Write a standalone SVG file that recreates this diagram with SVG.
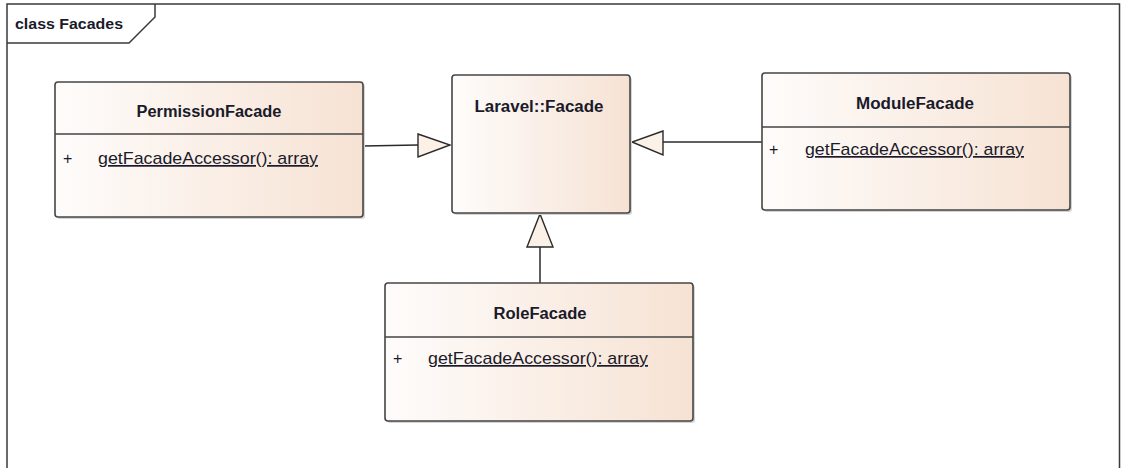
<svg xmlns="http://www.w3.org/2000/svg" width="1122" height="468" viewBox="0 0 1122 468">
<style>
.frame{fill:none;stroke:#3a3a3a;stroke-width:1.5}
.box{fill:url(#g);stroke:#454545;stroke-width:1.6}
.shadow{fill:#d4d4d4}
.div{stroke:#454545;stroke-width:1.4}
.title{font-family:"Liberation Sans",Arial,sans-serif;font-weight:bold;font-size:16px;fill:#1a1a2a;text-anchor:middle}
.attr{font-family:"Liberation Sans",Arial,sans-serif;font-size:17px;fill:#1a1a2a;text-decoration:underline}
.vis{font-family:"Liberation Sans",Arial,sans-serif;font-size:16px;fill:#1a1a2a}
.frm{font-family:"Liberation Sans",Arial,sans-serif;font-weight:bold;font-size:15px;fill:#1a1a2a}
.line{fill:none;stroke:#2a2a2a;stroke-width:1.5}
.head{fill:#fbf1e6;stroke:#2a2a2a;stroke-width:1.4}
</style>
<defs>
<linearGradient id="g" x1="0" y1="0" x2="1" y2="0">
<stop offset="0" stop-color="#fefcfb"/>
<stop offset="1" stop-color="#f6e2d3"/>
</linearGradient>
</defs>
<rect width="1122" height="468" fill="#ffffff"/>
<g id="frame">
<path class="frame" d="M7,470 V4 H1119.5 V470"/>
<path class="frame" d="M7,43 H129 L155,17 V4"/>
<text class="frm" x="15" y="29" textLength="108" lengthAdjust="spacingAndGlyphs">class Facades</text>
</g>
<g id="connectors">
<line class="line" x1="363" y1="146" x2="418" y2="145"/>
<polygon class="head" points="418,134 450,145 418,157"/>
<line class="line" x1="762" y1="142" x2="663" y2="142"/>
<polygon class="head" points="663,131 632,142 663,155"/>
<line class="line" x1="540" y1="283" x2="540" y2="247"/>
<polygon class="head" points="527,247 540,214 553,247"/>
</g>
<g id="PermissionFacade">
<rect class="shadow" x="57" y="84" width="308" height="135" rx="3"/>
<rect class="box" x="55" y="82" width="308" height="135" rx="3"/>
<line class="div" x1="55" y1="134" x2="363" y2="134"/>
<text class="title" x="209" y="117" textLength="145" lengthAdjust="spacingAndGlyphs">PermissionFacade</text>
<text class="vis" x="63" y="164">+</text>
<text class="attr" x="98" y="164" textLength="220" lengthAdjust="spacingAndGlyphs">getFacadeAccessor(): array</text>
</g>
<g id="LaravelFacade">
<rect class="shadow" x="454" y="77" width="178" height="138" rx="3"/>
<rect class="box" x="452" y="75" width="178" height="138" rx="3"/>
<text class="title" x="539" y="112" textLength="129" lengthAdjust="spacingAndGlyphs">Laravel::Facade</text>
</g>
<g id="ModuleFacade">
<rect class="shadow" x="764" y="75" width="308" height="137" rx="3"/>
<rect class="box" x="762" y="73" width="308" height="137" rx="3"/>
<line class="div" x1="762" y1="127" x2="1070" y2="127"/>
<text class="title" x="915" y="109" textLength="118" lengthAdjust="spacingAndGlyphs">ModuleFacade</text>
<text class="vis" x="769" y="155">+</text>
<text class="attr" x="805" y="155" textLength="219" lengthAdjust="spacingAndGlyphs">getFacadeAccessor(): array</text>
</g>
<g id="RoleFacade">
<rect class="shadow" x="387" y="285" width="308" height="138" rx="3"/>
<rect class="box" x="385" y="283" width="308" height="138" rx="3"/>
<line class="div" x1="385" y1="337" x2="693" y2="337"/>
<text class="title" x="540" y="319" textLength="93" lengthAdjust="spacingAndGlyphs">RoleFacade</text>
<text class="vis" x="393" y="364">+</text>
<text class="attr" x="428" y="364" textLength="220" lengthAdjust="spacingAndGlyphs">getFacadeAccessor(): array</text>
</g>
</svg>
